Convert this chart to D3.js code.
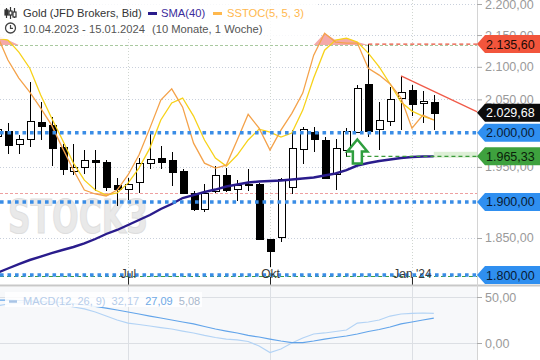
<!DOCTYPE html>
<html><head><meta charset="utf-8">
<script src="https://cdn.jsdelivr.net/npm/d3@7"></script>
<style>
body{margin:0;background:#fff;}
svg{display:block;font-family:"Liberation Sans",Arial,sans-serif;}
</style>
</head><body>
<svg id="c" width="540" height="360"></svg>
<script>
// ---------------- data ----------------
const dates = ["2023-04-10","2023-04-17","2023-04-24","2023-05-01","2023-05-08","2023-05-15","2023-05-22","2023-05-29",
"2023-06-05","2023-06-12","2023-06-19","2023-06-26","2023-07-03","2023-07-10","2023-07-17","2023-07-24","2023-07-31",
"2023-08-07","2023-08-14","2023-08-21","2023-08-28","2023-09-04","2023-09-11","2023-09-18","2023-09-25","2023-10-02",
"2023-10-09","2023-10-16","2023-10-23","2023-10-30","2023-11-06","2023-11-13","2023-11-20","2023-11-27","2023-12-04",
"2023-12-11","2023-12-18","2023-12-25","2024-01-01","2024-01-08","2024-01-15"];
const open  = [1995,2003,1983,1991,2015.6,2011,1979,1944.5,1949.7,1960,1957,1923.5,1918,1929,1956,1963.6,1960,1944,1913,1890,1916,1939,1918.4,1926,1925,1848.6,1851,1921,1976,2000.6,1989,1940,1974.7,2001.6,2073,2005,2018,2052.5,2064,2044.6,2046];
const high  = [2015,2015,1997,2077,2046,2023,1984,1983,1974,1974,1960,1934.7,1934.7,1963.5,2002,1981,1972,1947,1916,1925,1952,1948,1931,1946.6,1927,1848.6,1934,2004,2008,2008,1993,1991,2007.5,2072,2135.6,2046,2069.5,2086,2072,2062.5,2057];
const low   = [1985,1969,1969,1979,1989,1952,1939,1938,1940,1915,1916,1894,1903,1913,1947,1947,1922,1912.5,1887.5,1886,1912,1914.5,1902,1916,1847.6,1811,1845,1911,1954,1971,1932.5,1917,1964.5,2000,1994,1974,2010,2004,2025,2014,2004];
const close = [2005,1982,1990,2017,2010,1977,1947,1949.5,1960,1957,1921,1918,1925,1955.6,1962,1957.5,1942.5,1913,1890,1913,1939,1917.5,1924.5,1923.5,1848,1832.5,1932,1978,2005,1991,1933.5,1978,2003,2068,2003,2019,2051,2061,2043,2047.8,2029.68];
const sma40 = [1802.7,1808.7,1814.7,1820.1,1824.8,1829.5,1833.6,1837.7,1842.5,1848.6,1855.5,1861.0,1867.9,1874.8,1881.8,1890.2,1897.2,1905.6,1909.8,1914.1,1917.6,1921.9,1924.8,1927.6,1929.1,1929.8,1930.5,1931.9,1933.3,1934.8,1937.6,1940.5,1945.5,1952.0,1955.7,1958.6,1960.7,1962.9,1964.4,1965.1,1965.33];
const stocK = [84.0,73.9,66.6,60.9,54.4,47.5,38.2,29.3,21.2,19.6,18.8,21.2,27.3,35.4,46.3,57.7,62.2,54.8,40.2,32.1,30.1,31.3,41.5,51.9,46.3,37.4,45.5,52.3,60.5,75.9,84.8,81.2,80.8,80.8,70.6,67.8,64.2,58.5,46.3,51.6,49.6];
const stocD = [82.8,82.0,77.1,70.6,59.7,50.4,41.5,32.1,25.2,21.2,19.2,20.0,24.0,30.1,38.2,49.6,56.5,58.5,51.2,41.5,34.2,30.9,35.4,41.5,45.9,44.7,42.7,44.3,53.6,66.6,77.9,82.0,82.8,81.2,76.7,71.1,64.2,56.9,53.2,51.2,49.6];
const macdLine   = [40.2,42.4,43.5,44.6,44.6,43.5,41.3,39.1,37.0,33.7,29.3,25.0,21.7,20.1,18.5,16.8,15.2,13.0,10.9,8.2,6.0,4.3,3.3,1.6,-3.3,-10.3,-6.5,0,5.4,9.8,10.9,12.5,14.1,21.7,22.8,25.0,29.3,31.5,32.1,32.6,32.17];
const macdSignal = [46.7,46.7,46.2,45.7,45.1,44.6,44.0,42.9,41.3,39.7,38.0,35.9,33.7,31.5,29.3,27.2,25.0,22.8,20.7,17.9,15.2,13.0,10.9,8.2,6.5,4.3,2.2,0.5,0.5,2.2,4.3,6.0,7.6,9.8,12.5,14.7,17.4,20.7,22.8,25.0,27.09];
const priceTicks = [2200,2150,2100,2050,1950,1850];
const macdTicks = [50,0];
const xTickDates = ["2023-07-03","2023-10-02","2024-01-01"];
const xTickLabels = ["Jul","Okt","Jan '24"];
const supportLevels = [2000,1900,1800];
const markerLevels = [2135.60,2029.68,2000,1965.33,1900,1800];
const stochLevels = [80,20];
const trendStart = ["2023-12-25",2086];
const trendEnd = ["2024-02-12",2031];
const highLevel = ["2023-12-04",2135.60];
const arrowAt = ["2023-11-27",1990];
const smaLevelStart = "2023-11-20";

// ---------------- setup ----------------
const svg = d3.select("#c");
const parse = d3.utcParse("%Y-%m-%d");
const D = dates.map(parse);
const plotR = 477, mainBot = 285, macdTop = 287;
const x = d3.scaleUtc().domain([D[0], D[D.length-1]]).range([-3, 433.8]);
const y = d3.scaleLog().domain([1800,2200]).range([275,4]);
const ys = d3.scaleLinear().domain([20,80]).range([193,45]);
const ym = d3.scaleLinear().domain([0,50]).range([343,297]);
const loc = d3.formatLocale({decimal:",",thousands:".",grouping:[3],currency:["",""]});
const fmt = loc.format(",.2f");

const defs = svg.append("defs");
defs.append("clipPath").attr("id","cm").append("rect").attr("x",0).attr("y",0).attr("width",plotR).attr("height",mainBot);
defs.append("clipPath").attr("id","cd").append("rect").attr("x",0).attr("y",macdTop).attr("width",plotR).attr("height",360-macdTop);

// ---------- main panel ----------
const gm = svg.append("g").attr("clip-path","url(#cm)");

// watermark
gm.append("text").attr("x",8).attr("y",233).text("STOCK3")
  .attr("font-family","DejaVu Sans").attr("font-weight","bold").attr("font-size",46)
  .attr("textLength",140).attr("lengthAdjust","spacingAndGlyphs")
  .attr("fill","#e9e9e9").attr("stroke","#dedede").attr("stroke-width",1);

// grid
gm.selectAll(".hg").data(priceTicks).join("line")
  .attr("x1",0).attr("x2",plotR).attr("y1",d=>Math.round(y(d))+0.5).attr("y2",d=>Math.round(y(d))+0.5)
  .attr("stroke","#c9d0dc").attr("stroke-dasharray","1,2");
gm.selectAll(".vg").data(xTickDates.map(parse)).join("line")
  .attr("x1",d=>Math.round(x(d))+0.5).attr("x2",d=>Math.round(x(d))+0.5).attr("y1",0).attr("y2",mainBot)
  .attr("stroke","#d0d6d0").attr("stroke-dasharray","1,2");

// stochastic zones
const maxKD = stocK.map((k,i)=>Math.max(k,stocD[i]));
const minKD = stocK.map((k,i)=>Math.min(k,stocD[i]));
gm.append("path").datum(D).attr("fill","#f08c8c").attr("opacity",0.75)
  .attr("d", d3.area().x(d=>x(d)).y0(ys(80)).y1((d,i)=>ys(Math.max(80,maxKD[i]))));
gm.append("path").datum(D).attr("fill","#e9b0b0").attr("opacity",0.75)
  .attr("d", d3.area().x(d=>x(d)).y0(ys(20)).y1((d,i)=>ys(Math.min(20,minKD[i]))));
gm.selectAll(".sl").data(stochLevels).join("line")
  .attr("x1",0).attr("x2",plotR).attr("y1",d=>Math.round(ys(d))+0.5).attr("y2",d=>Math.round(ys(d))+0.5)
  .attr("stroke",d=>d===80?"#a9c9a0":"#eea0a0").attr("stroke-dasharray","3,2");

// candles
const gc = gm.append("g").attr("shape-rendering","crispEdges");
D.forEach((d,i)=>{
  const cx = Math.round(x(d));
  gc.append("line").attr("x1",cx+0.5).attr("x2",cx+0.5).attr("y1",y(high[i])).attr("y2",y(low[i])).attr("stroke","#000");
  const up = close[i] >= open[i];
  const top = Math.round(y(Math.max(open[i],close[i])));
  const bot = Math.round(y(Math.min(open[i],close[i])));
  gc.append("rect").attr("x",cx-3+0.5).attr("y",top+0.5).attr("width",7).attr("height",Math.max(1,bot-top))
    .attr("fill",up?"#fff":"#000").attr("stroke","#000");
});

// stochastic lines
gm.append("path").datum(D).attr("fill","none").attr("stroke","#f7d21a").attr("stroke-width",1.3)
  .attr("d", d3.line().x(d=>x(d)).y((d,i)=>ys(stocD[i])));
gm.append("path").datum(D).attr("fill","none").attr("stroke","#f4a24a").attr("stroke-width",1.3)
  .attr("d", d3.line().x(d=>x(d)).y((d,i)=>ys(stocK[i])));

// SMA
gm.append("path").datum(D).attr("fill","none").attr("stroke","#2a1c8c").attr("stroke-width",2.4)
  .attr("d", d3.line().x(d=>x(d)).y((d,i)=>y(sma40[i])));

// support lines (blue dotted)
gm.append("line").attr("x1",0).attr("x2",plotR).attr("y1",y(1800)+1.5).attr("y2",y(1800)+1.5)
  .attr("stroke","#3ea040").attr("stroke-width",1).attr("stroke-dasharray","4,3");
gm.selectAll(".sup").data(supportLevels).join("line")
  .attr("x1",0).attr("x2",plotR).attr("y1",d=>y(d)).attr("y2",d=>y(d))
  .attr("stroke","#3a8de6").attr("stroke-width",3.6).attr("stroke-dasharray","3.6,3.9");

// SMA level line + box
const smaLast = sma40[sma40.length-1];
gm.append("rect").attr("x",x(D[D.length-1])).attr("y",y(smaLast)-4.5).attr("width",plotR-x(D[D.length-1])).attr("height",6)
  .attr("fill","#d9eed2").attr("opacity",0.9);
gm.append("line").attr("x1",x(parse(smaLevelStart))).attr("x2",plotR).attr("y1",y(smaLast)).attr("y2",y(smaLast))
  .attr("stroke","#3a9a3a").attr("stroke-width",1.2).attr("stroke-dasharray","4,3");

// high level
gm.append("line").attr("x1",x(parse(highLevel[0]))).attr("x2",plotR).attr("y1",y(highLevel[1])).attr("y2",y(highLevel[1]))
  .attr("stroke","#e8503a").attr("stroke-width",1.2).attr("stroke-dasharray","4,3");

// trendline
gm.append("line").attr("x1",x(parse(trendStart[0]))).attr("y1",y(trendStart[1]))
  .attr("x2",x(parse(trendEnd[0]))).attr("y2",y(trendEnd[1]))
  .attr("stroke","#f05a48").attr("stroke-width",1.3);

// arrow
{
  const ax = x(parse(arrowAt[0])), ay = y(arrowAt[1]);
  gm.append("path").attr("d",`M${ax},${ay} L${ax+10},${ay+12} L${ax+4.5},${ay+12} L${ax+4.5},${ay+24} L${ax-4.5},${ay+24} L${ax-4.5},${ay+12} L${ax-10},${ay+12} Z`)
    .attr("fill","#fff").attr("stroke","#2e9e3e").attr("stroke-width",2.5).attr("stroke-linejoin","miter");
}

// x axis (inside main panel bottom)
const xa = svg.append("g").attr("transform",`translate(0,${mainBot})`)
  .call(d3.axisTop(x).tickValues(xTickDates.map(parse)).tickFormat((d,i)=>xTickLabels[i]).tickSize(8).tickPadding(-1));
xa.select(".domain").remove();
xa.selectAll("line").attr("stroke","#222");
xa.selectAll("text").attr("fill","#3a3a3a").attr("font-size",12).attr("font-family","Liberation Sans, Arial");

// ---------- MACD panel ----------
svg.append("rect").attr("x",0).attr("y",macdTop).attr("width",plotR).attr("height",360-macdTop).attr("fill","#f7f8fa");
svg.append("line").attr("x1",0).attr("x2",540).attr("y1",mainBot+0.5).attr("y2",mainBot+0.5).attr("stroke","#c8c8c8").attr("stroke-width",2);
const gd = svg.append("g").attr("clip-path","url(#cd)");
gd.selectAll(".mg").data(macdTicks).join("line")
  .attr("x1",0).attr("x2",plotR).attr("y1",d=>Math.round(ym(d))+0.5).attr("y2",d=>Math.round(ym(d))+0.5).attr("stroke","#dcdfe4");
gd.selectAll(".mvg").data(xTickDates.map(parse)).join("line")
  .attr("x1",d=>Math.round(x(d))+0.5).attr("x2",d=>Math.round(x(d))+0.5).attr("y1",macdTop).attr("y2",360).attr("stroke","#dcdfe4");
gd.append("path").datum(D).attr("fill","none").attr("stroke","#b3d3f5").attr("stroke-width",1.2)
  .attr("d", d3.line().x(d=>x(d)).y((d,i)=>ym(macdLine[i])));
gd.append("path").datum(D).attr("fill","none").attr("stroke","#62a4ea").attr("stroke-width",1.2)
  .attr("d", d3.line().x(d=>x(d)).y((d,i)=>ym(macdSignal[i])));

// MACD legend
svg.append("rect").attr("x",5).attr("y",292).attr("width",197).attr("height",15).attr("fill","#fff").attr("opacity",0.85);
svg.append("line").attr("x1",9).attr("x2",17).attr("y1",301.5).attr("y2",301.5).attr("stroke","#a9c4e6").attr("stroke-width",2.5);
const mt = svg.append("text").attr("x",23).attr("y",305).attr("font-size",11);
mt.append("tspan").text("MACD(12, 26, 9)").attr("fill","#b7cdea");
mt.append("tspan").text(" " + loc.format(".2f")(macdLine[macdLine.length-1])).attr("fill","#b7cdea").attr("dx",3);
mt.append("tspan").text(" " + loc.format(".2f")(macdSignal[macdSignal.length-1])).attr("fill","#6fa9e6").attr("dx",3);
mt.append("tspan").text(" " + loc.format(".2f")(macdLine[macdLine.length-1]-macdSignal[macdSignal.length-1])).attr("fill","#a9b8cc").attr("dx",3);

// ---------- right axes ----------
svg.append("line").attr("x1",plotR+0.5).attr("x2",plotR+0.5).attr("y1",0).attr("y2",360).attr("stroke","#d4d4d4");
const ya = svg.append("g").attr("transform",`translate(${plotR},0)`)
  .call(d3.axisRight(y).tickValues(priceTicks).tickFormat(fmt).tickSize(5).tickPadding(3));
ya.select(".domain").remove();
ya.selectAll("line").attr("stroke","#aaa");
ya.selectAll("text").attr("fill","#9a9a9a").attr("font-size",12.5).attr("font-family","Liberation Sans, Arial");
const ya2 = svg.append("g").attr("transform",`translate(${plotR},0)`)
  .call(d3.axisRight(ym).tickValues(macdTicks).tickFormat(fmt).tickSize(5).tickPadding(3));
ya2.select(".domain").remove();
ya2.selectAll("line").attr("stroke","#aaa");
ya2.selectAll("text").attr("fill","#9a9a9a").attr("font-size",12.5).attr("font-family","Liberation Sans, Arial");

// price markers
const markerStyle = [
  {bg:"#f2553c", fg:"#1a0a05"},
  {bg:"#0c0c0c", fg:"#ffffff"},
  {bg:"#2f8ff0", fg:"#081a33"},
  {bg:"#3ea13e", fg:"#0a200a"},
  {bg:"#2f8ff0", fg:"#081a33"},
  {bg:"#2f8ff0", fg:"#081a33"}
];
markerLevels.forEach((v,i)=>{
  const yc = y(v);
  svg.append("path").attr("d",`M${plotR},${yc} L${plotR+8},${yc-9} L540,${yc-9} L540,${yc+9} L${plotR+8},${yc+9} Z`)
    .attr("fill",markerStyle[i].bg);
  svg.append("text").attr("x",486).attr("y",yc+4.5).attr("font-size",12.5).attr("fill",markerStyle[i].fg).text(fmt(v));
});

// ---------- top legend ----------
svg.append("rect").attr("x",0).attr("y",0).attr("width",318).attr("height",39).attr("fill","#fff").attr("opacity",0.85);
// candle icon
const ic = svg.append("g").attr("stroke","#333").attr("stroke-width",1.2).attr("fill","none");
[6.5,10.5,14.5].forEach((cx,k)=>{
  ic.append("line").attr("x1",cx).attr("x2",cx).attr("y1",k===1?7:8).attr("y2",k===1?19:18);
  ic.append("rect").attr("x",cx-1.5).attr("y",k===1?11:10+k).attr("width",3).attr("height",k===1?4:5).attr("fill",k===0?"#333":"#fff");
});
const t1 = svg.append("text").attr("x",23).attr("y",17).attr("font-size",11.2);
t1.append("tspan").text("Gold (JFD Brokers, Bid)").attr("fill","#333");
svg.append("rect").attr("x",148).attr("y",12).attr("width",9).attr("height",3).attr("fill","#2a1c8c");
svg.append("text").attr("x",161).attr("y",17).attr("font-size",11.2).attr("fill","#3a2c9c").text("SMA(40)");
svg.append("rect").attr("x",213).attr("y",12).attr("width",9).attr("height",3).attr("fill","#ffb84d");
svg.append("text").attr("x",227).attr("y",17).attr("font-size",11.2).attr("fill","#ffb84d").text("SSTOC(5, 5, 3)");
// clock icon
svg.append("circle").attr("cx",10.5).attr("cy",28).attr("r",5).attr("fill","none").attr("stroke","#444").attr("stroke-width",1.3);
svg.append("path").attr("d","M10.5,25 V28.3 H13").attr("fill","none").attr("stroke","#444").attr("stroke-width",1.2);
svg.append("text").attr("x",23).attr("y",32.5).attr("font-size",11.2).attr("fill","#555").text("10.04.2023 - 15.01.2024");
svg.append("text").attr("x",152).attr("y",32.5).attr("font-size",11.2).attr("fill","#555").text("(10 Monate, 1 Woche)");
</script>
</body></html>
